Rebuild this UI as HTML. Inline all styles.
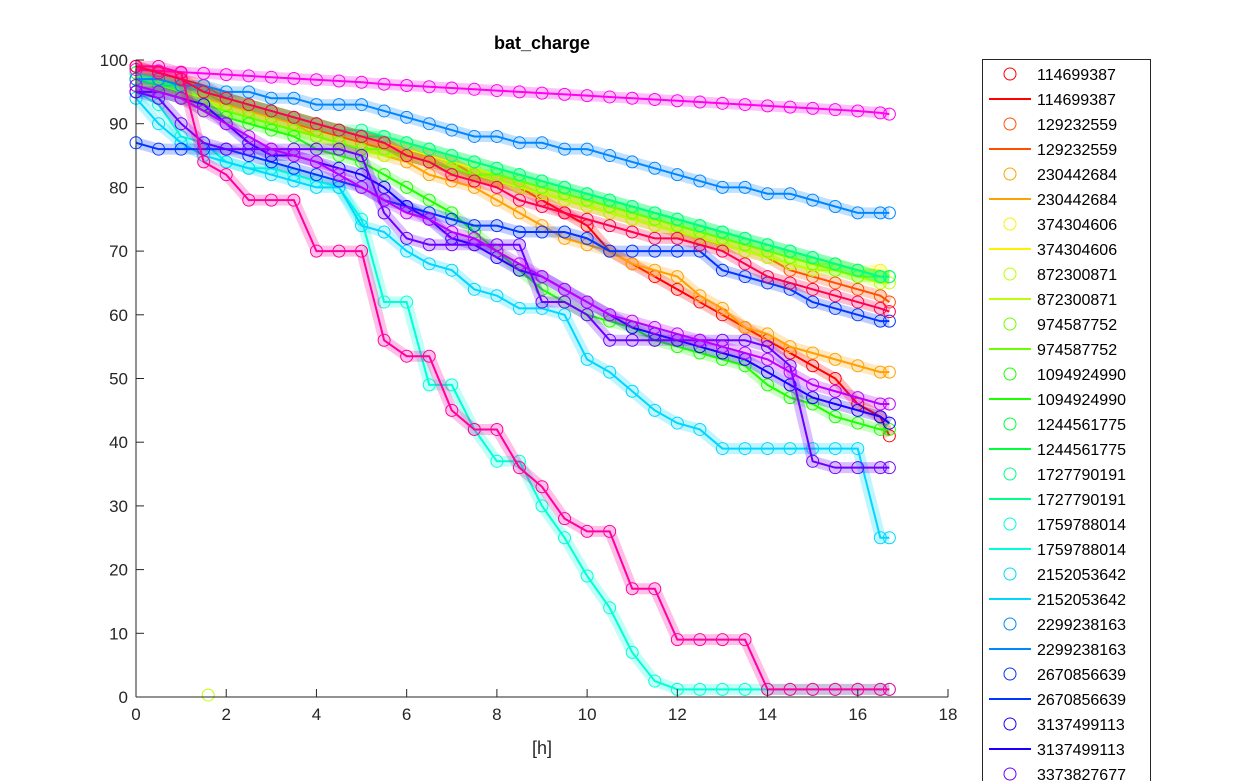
<!DOCTYPE html>
<html><head><meta charset="utf-8"><style>
html,body{margin:0;background:#fff;width:1250px;height:781px;overflow:hidden;}
svg{display:block;font-family:"Liberation Sans",sans-serif;}
</style></head><body>
<svg id="chart" width="1250" height="781" viewBox="0 0 1250 781" xmlns="http://www.w3.org/2000/svg" overflow="hidden">
<rect width="1250" height="781" fill="#fff"/>
<text x="542" y="49" text-anchor="middle" font-size="18" font-weight="bold" fill="#000">bat_charge</text>
<g id="plot"></g>
<g id="axes"></g>
<g id="legend"></g>
</svg>
<script>
const xTicks=[0,2,4,6,8,10,12,14,16,18];
const yTicks=[0,10,20,30,40,50,60,70,80,90,100];
const times=[0,0.5,1,1.5,2,2.5,3,3.5,4,4.5,5,5.5,6,6.5,7,7.5,8,8.5,9,9.5,10,10.5,11,11.5,12,12.5,13,13.5,14,14.5,15,15.5,16,16.5,16.7];
const seriesNames=["114699387","129232559","230442684","374304606","872300871","974587752","1094924990","1244561775","1727790191","1759788014","2152053642","2299238163","2670856639","3137499113","3373827677","3519027751","3680153219","3811752418","3977205562"];
const s0=[99,98,97,96,94,93,92,91,90,89,88,87,86,85,84,82,81,80,78,76,74,70,68,66,64,62,60,58,56,54,52,50,46,44,41];
const s1=[98,97,96,95,93,92,91,90,89,88,87,86,85,84,83,82,81,80,79,78,77,76,75,74,73,72,71,70,69,67,66,65,64,63,62];
const s2=[97,96,95,94,93,92,91,90,88,87,86,85,84,82,81,80,78,76,74,72,71,70,68,67,66,63,61,58,57,55,54,53,52,51,51];
const s3=[98,97,96,95,94,93,92,91,90,89,88,87,86,85,84,83,82,81,80,79,78,77,76,75,74,73,72,71,70,69,68,68,67,67,66];
const s4=[98,97,95,94,92,91,90,89,88,87,86,85,85,84,83,82,81,80,79,78,77,76,75,74,73,72,71,70,69,68,67,67,66,65,65];
const s5=[97,96,95,93,92,91,90,89,88,87,86,86,85,84,83,82,82,81,80,79,78,77,76,75,74,73,72,71,70,69,68,67,66,66,66];
const s6=[96,95,94,92,91,90,89,88,86,85,84,82,80,78,76,73,70,67,64,62,60,59,58,56,55,54,53,52,49,47,46,44,43,42,42];
const s7=[97,96,96,95,94,93,92,91,90,89,88,88,87,86,85,84,83,82,81,80,79,78,77,76,75,74,73,72,71,70,69,68,67,66,66];
const s8=[98,97,96,95,94,93,92,91,90,89,89,88,87,86,85,84,83,82,81,80,79,78,77,76,75,74,73,72,71,70,69,68,67,66,66];
const s9=[95,93,88,87,84,83,83,82,81,80,75,62,62,49,49,42,37,37,30,25,19,14,7,2.5,1.2,1.2,1.2,1.2,1.2,1.2,1.2,1.2,1.2,1.2,1.2];
const s10=[94,90,87,85,84,83,82,81,80,80,74,73,70,68,67,64,63,61,61,60,53,51,48,45,43,42,39,39,39,39,39,39,39,25,25];
const s11=[97,97,96,96,95,95,94,94,93,93,93,92,91,90,89,88,88,87,87,86,86,85,84,83,82,81,80,80,79,79,78,77,76,76,76];
const s12=[87,86,86,86,86,85,84,83,82,81,80,78,77,76,75,74,74,73,73,73,72,70,70,70,70,70,67,66,65,64,62,61,60,59,59];
const s13=[95,95,94,93,90,87,85,85,84,83,82,80,77,75,72,71,69,67,66,64,62,60,58,57,56,55,54,53,51,49,47,46,45,44,43];
const s14=[95,94,90,87,86,86,86,86,86,86,85,76,72,71,71,71,71,71,62,62,60,56,56,56,56,56,56,56,55,52,37,36,36,36,36];
const s15=[96,95,94,92,90,88,86,85,84,82,80,78,76,75,73,72,70,68,66,64,62,60,59,58,57,56,55,54,53,51,49,48,47,46,46];
const s16=[98.5,98.3,98.1,97.9,97.7,97.5,97.3,97.1,96.9,96.7,96.5,96.2,96,95.8,95.6,95.4,95.2,95,94.8,94.6,94.4,94.2,94,93.8,93.6,93.4,93.2,93,92.8,92.6,92.4,92.2,92,91.7,91.5];
const s17=[99,99,98,84,82,78,78,78,70,70,70,56,53.5,53.5,45,42,42,36,33,28,26,26,17,17,9,9,9,9,1.2,1.2,1.2,1.2,1.2,1.2,1.2];
const s18=[99,98,97,95,94,93,92,91,90,89,88,87,85,84,82,81,80,78,77,76,75,74,73,72,72,71,70,68,66,65,64,63,62,61,60.5];
const seriesData=[s0,s1,s2,s3,s4,s5,s6,s7,s8,s9,s10,s11,s12,s13,s14,s15,s16,s17,s18];

const X0=136,X1=948,Y0=697,Y1=60;
const xScale=v=>X0+(v-0)/(18-0)*(X1-X0);
const yScale=v=>Y0-(v-0)/(100-0)*(Y0-Y1);
const color=i=>'hsl('+(i*360/19).toFixed(1)+',100%,50%)';
const NS="http://www.w3.org/2000/svg";
function mk(tag,attrs,parent){const e=document.createElementNS(NS,tag);for(const k in attrs)e.setAttribute(k,attrs[k]);parent.appendChild(e);return e;}

const plot=document.getElementById('plot');
seriesData.forEach((vals,si)=>{
  const col=color(si);
  const g=mk('g',{},plot);
  
  
  const pts=vals.map((v,i)=>xScale(times[i])+','+yScale(v)).join(' ');
  const band=mk('polyline',{points:pts,fill:'none',stroke:col,'stroke-width':11,'stroke-opacity':0.25,'stroke-linejoin':'round'},g);
  
  
  vals.forEach((v,i)=>{
    const c=mk('circle',{cx:xScale(times[i]),cy:yScale(v),r:6,fill:'none',stroke:col,'stroke-width':1},g);
    
    
  });
  const pl=mk('polyline',{points:pts,fill:'none',stroke:col,'stroke-width':2},g);
  
  
});
const stray=mk('circle',{cx:xScale(1.6),cy:yScale(0.3),r:6,fill:'none',stroke:color(4),'stroke-width':1},plot);



const axes=document.getElementById('axes');
const xa=mk('line',{x1:X0,y1:Y0,x2:X1,y2:Y0,stroke:'#262626','stroke-width':1},axes);


const ya=mk('line',{x1:X0,y1:Y0,x2:X0,y2:Y1,stroke:'#262626','stroke-width':1},axes);


xTicks.forEach(t=>{
  const x=xScale(t);
  mk('line',{x1:x,y1:Y0,x2:x,y2:Y0-8,stroke:'#262626'},axes);
  const tx=mk('text',{x:x,y:Y0+23,'text-anchor':'middle','font-size':17,fill:'#262626'},axes);
  tx.textContent=t;
  
  
});
yTicks.forEach(t=>{
  const y=yScale(t);
  mk('line',{x1:X0,y1:y,x2:X0+8,y2:y,stroke:'#262626'},axes);
  const tx=mk('text',{x:X0-8,y:y+6,'text-anchor':'end','font-size':17,fill:'#262626'},axes);
  tx.textContent=t;
  
  
});
const xl=mk('text',{x:542,y:754,'text-anchor':'middle','font-size':18,fill:'#262626'},axes);
xl.textContent='[h]';



const leg=document.getElementById('legend');


mk('rect',{x:982.5,y:59.5,width:168,height:760,fill:'#fff',stroke:'#262626','stroke-width':1},leg);
seriesNames.forEach((n,si)=>{
  const y1=74+si*50, y2=99+si*50;
  if(y1>800) return;
  const col=color(si);
  const ge=mk('g',{},leg);
  
  
  mk('circle',{cx:1010,cy:y1,r:6,fill:'none',stroke:col},ge);
  const t1=mk('text',{x:1037,y:y1+6,'font-size':16,fill:'#000'},ge);t1.textContent=n;
  const gl=mk('g',{},leg);
  
  
  mk('line',{x1:989,y1:y2,x2:1031,y2:y2,stroke:col,'stroke-width':2},gl);
  const t2=mk('text',{x:1037,y:y2+6,'font-size':16,fill:'#000'},gl);t2.textContent=n;
});
</script>
</body></html>
